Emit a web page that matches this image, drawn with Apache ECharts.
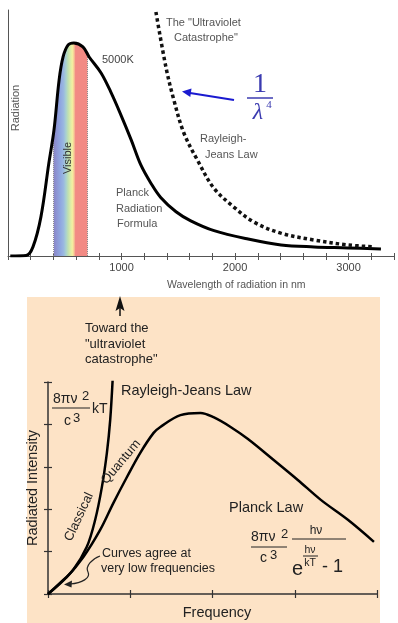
<!DOCTYPE html>
<html><head><meta charset="utf-8">
<script src="https://cdn.jsdelivr.net/npm/echarts@6/dist/echarts.min.js"></script>
<style>html,body{margin:0;padding:0;background:#fff}#c{width:398px;height:623px}</style>
</head><body><div id="c"></div>
<script>
// ---- Top panel data (wavelength in nm, relative radiation 0-100) ----
const wavelengthNm = [20,160,220,290,360,405,450,485,530,580,660,715,820,905,995,1085,1170,1260,1345,1480,1610,1815,2115,2405,2695,2995,3285];
const planckRadiation = [0,0.2,3.7,15.9,37.8,51.2,71.5,80.9,85.8,86.6,85.0,80.9,74.4,66.7,57.3,47.2,37.0,29.5,23.8,18.0,14.3,10.3,6.9,4.5,3.7,3.3,2.8];
const rjNm = [1303,1391,1461,1549,1673,1813,1989,2165,2403,2694,2993,3222];
const rjRadiation = [99.2,76.8,63.4,50.0,38.6,27.6,19.9,13.8,9.3,6.5,4.5,3.7];
const topTickLabels = [1000,2000,3000];
const visibleRange = [400,700];
const visibleEdgeTop = [50,82];
const visibleNm = [400,405,450,485,530,580,660,700];
const visibleRadiation = [50,51.2,71.5,80.9,85.8,86.6,85.0,82];
// ---- Bottom panel data (frequency 0-4, intensity 0-5) ----
const freqClassical = [0,0.146,0.305,0.472,0.573,0.655,0.716,0.756,0.789];
const intensityClassical = [0,0.26,0.566,1.113,1.745,2.52,3.33,4.10,5.17];
const freqQuantum = [0,0.228,0.43,0.634,0.796,0.96,1.122,1.284,1.366,1.61,1.854,2.012,2.22,2.427,2.744,3.037,3.317,3.646,3.963];
const intensityQuantum = [0,0.40,0.873,1.51,2.15,2.76,3.33,3.80,3.94,4.22,4.27,4.17,3.94,3.66,3.16,2.69,2.22,1.75,1.23];

const zip = (a,b)=>a.map((v,i)=>[v,b[i]]);
const FONT = 'Liberation Sans, Arial, Helvetica, sans-serif';
// spectrum colour stops (wavelength nm -> colour)
const spectrumNm = [400,430,460,490,510,530,550,567,582,595,700];
const spectrumColor = ['#8a84c4','#8c95d4','#8fa6e0','#9ab8e0','#a8d0d0','#c0e0b0','#dceca8','#f4f0a0','#f6c896','#f28a84','#f28a84'];
const spectrumGradient = new echarts.graphic.LinearGradient(0,0,1,0,
  spectrumNm.map((n,i)=>({offset:(n-visibleRange[0])/(visibleRange[1]-visibleRange[0]),color:spectrumColor[i]})));

function txt(text,x,y,size,opts){
  opts=opts||{};
  return {type:'text',x:x,y:y,rotation:opts.rot||0,z:100,
    style:{text:text,x:0,y:0,fill:opts.color||'#222',
      font:(opts.style||'')+' '+size+'px '+(opts.family||FONT),
      align:opts.align||'left',verticalAlign:'middle'}};
}
function seg(x1,y1,x2,y2,color,w){
  return {type:'line',z:100,shape:{x1:x1,y1:y1,x2:x2,y2:y2},style:{stroke:color||'#222',lineWidth:w||1}};
}
function bez(x1,y1,c1x,c1y,c2x,c2y,x2,y2,color,w){
  return {type:'bezierCurve',z:100,shape:{x1:x1,y1:y1,cpx1:c1x,cpy1:c1y,cpx2:c2x,cpy2:c2y,x2:x2,y2:y2},
    style:{stroke:color||'#222',lineWidth:w||1,fill:null}};
}

const chart = echarts.init(document.getElementById('c'),null,{renderer:'canvas'});
const axisCol = '#555';
chart.setOption({
  animation:false,
  backgroundColor:'#fff',
  grid:[
    {left:8,top:10,width:386,height:246},
    {left:48,top:382,width:329,height:212}
  ],
  xAxis:[
    {gridIndex:0,type:'value',min:0,max:3400,interval:200,position:'bottom',
     axisLine:{onZero:false,lineStyle:{color:axisCol,width:1}},
     axisTick:{length:4,lineStyle:{color:axisCol}},
     axisLabel:{fontSize:11,color:'#444',fontFamily:FONT,margin:6,
       formatter:v=>topTickLabels.indexOf(v)>=0?String(v):''},
     splitLine:{show:false}},
    {gridIndex:0,type:'value',min:0,max:3400,interval:200,position:'bottom',
     axisLine:{show:false,onZero:false},axisTick:{inside:true,length:3,lineStyle:{color:axisCol}},
     axisLabel:{show:false},splitLine:{show:false}},
    {gridIndex:1,type:'value',min:0,max:4,interval:1,position:'bottom',
     axisLine:{onZero:false,lineStyle:{color:'#333',width:1.5}},
     axisTick:{length:4,lineStyle:{color:'#333',width:1.2}},
     axisLabel:{show:false},splitLine:{show:false}},
    {gridIndex:1,type:'value',min:0,max:4,interval:1,position:'bottom',
     axisLine:{show:false,onZero:false},axisTick:{inside:true,length:4,lineStyle:{color:'#333',width:1.2}},
     axisLabel:{show:false},splitLine:{show:false}}
  ],
  yAxis:[
    {gridIndex:0,type:'value',min:0,max:100,position:'left',
     axisLine:{show:true,onZero:false,lineStyle:{color:axisCol,width:1}},
     axisTick:{show:false},axisLabel:{show:false},splitLine:{show:false}},
    {gridIndex:1,type:'value',min:0,max:5,interval:1,position:'left',
     axisLine:{show:true,onZero:false,lineStyle:{color:'#333',width:1.5}},
     axisTick:{show:true,length:4,lineStyle:{color:'#333',width:1.2}},
     axisLabel:{show:false},splitLine:{show:false}},
    {gridIndex:1,type:'value',min:0,max:5,interval:1,position:'left',
     axisLine:{show:false,onZero:false},
     axisTick:{show:true,inside:true,length:4,lineStyle:{color:'#333',width:1.2}},
     axisLabel:{show:false},splitLine:{show:false}}
  ],
  series:[
    {type:'line',xAxisIndex:0,yAxisIndex:0,data:zip(visibleNm,visibleRadiation),
     smooth:0.35,symbol:'none',lineStyle:{width:0,opacity:0},
     areaStyle:{opacity:1,color:spectrumGradient},z:1,silent:true},
    {type:'line',xAxisIndex:0,yAxisIndex:0,data:[],symbol:'none',z:3,
     markLine:{silent:true,symbol:'none',label:{show:false},
       lineStyle:{color:'#8a8a8a',type:'dotted',width:1},
       data:visibleRange.map((v,i)=>[{coord:[v,0]},{coord:[v,visibleEdgeTop[i]]}])}},
    {type:'line',xAxisIndex:0,yAxisIndex:0,data:zip(wavelengthNm,planckRadiation),
     smooth:0.35,symbol:'none',lineStyle:{color:'#000',width:3},z:5},
    {type:'line',xAxisIndex:0,yAxisIndex:0,data:zip(rjNm,rjRadiation),
     smooth:0.35,symbol:'none',lineStyle:{color:'#111',width:3.5,type:[3.5,3],cap:'butt'},z:5},
    {type:'line',xAxisIndex:2,yAxisIndex:1,data:zip(freqClassical,intensityClassical),
     smooth:0.35,symbol:'none',lineStyle:{color:'#000',width:2.5},z:5},
    {type:'line',xAxisIndex:2,yAxisIndex:1,data:zip(freqQuantum,intensityQuantum),
     smooth:0.35,symbol:'none',lineStyle:{color:'#000',width:2.5},z:5}
  ],
  graphic:[
    {type:'rect',z:-100,shape:{x:27,y:297,width:353,height:326},style:{fill:'#fde3c6'}},
    // top panel text
    txt('Radiation',16,108,11,{rot:Math.PI/2,align:'center',color:'#555'}),
    txt('Visible',68,158,11,{rot:Math.PI/2,align:'center',color:'#333'}),
    txt('5000K',102,60,11,{color:'#444'}),
    txt('The "Ultraviolet',166,23,11,{color:'#555'}),
    txt('Catastrophe"',174,38,11,{color:'#555'}),
    txt('Rayleigh-',200,139,11,{color:'#555'}),
    txt('Jeans Law',205,155,11,{color:'#555'}),
    txt('Planck',116,193,11,{color:'#555'}),
    txt('Radiation',116,209,11,{color:'#555'}),
    txt('Formula',117,224,11,{color:'#555'}),
    txt('Wavelength of radiation in nm',167,285,10.5,{color:'#555'}),
    // blue arrow + 1/lambda^4
    seg(234,100,190,93,'#1a1ad0',2),
    {type:'polygon',z:100,shape:{points:[[182,91.5],[191.5,88.6],[190.3,97]]},style:{fill:'#1a1ad0'}},
    txt('1',260,85,28,{align:'center',color:'#3b3bb0',family:'Liberation Serif, DejaVu Serif, serif'}),
    seg(247,98,273,98,'#3b3bb0',1.5),
    txt('λ',258,113,24,{align:'center',color:'#3b3bb0',style:'italic',family:'Liberation Serif, DejaVu Serif, serif'}),
    txt('4',269,105,11,{align:'center',color:'#3b3bb0',family:'Liberation Serif, DejaVu Serif, serif'}),
    // bottom panel
    {type:'polygon',z:100,shape:{points:[[120,296],[115.5,311],[120,308],[124.5,311]]},style:{fill:'#111'}},
    seg(120,308,120,316,'#111',1.5),
    txt('Toward the',85,328,13),
    txt('"ultraviolet',85,344,13),
    txt('catastrophe"',85,359,13),
    txt('Rayleigh-Jeans Law',121,391,14.5),
    txt('Planck Law',229,508,14.5),
    txt('Radiated Intensity',33,488,14.5,{rot:Math.PI/2,align:'center'}),
    txt('Frequency',217,613,14.5,{align:'center'}),
    txt('Classical',79,517,13,{rot:65*Math.PI/180,align:'center'}),
    txt('Quantum',121,462,13,{rot:50*Math.PI/180,align:'center'}),
    txt('Curves agree at',102,554,12.5),
    txt('very low frequencies',101,569,12.5),
    bez(100,556,92,559,85,566,88,572,'#222',1.2),
    bez(88,572,91,578,82,583,70,584,'#222',1.2),
    {type:'polygon',z:100,shape:{points:[[64,584.5],[72,580.5],[71.5,587.5]]},style:{fill:'#222'}},
    // formula 1 (Rayleigh-Jeans)
    txt('8πν',53,399,14),
    txt('2',82,396,13),
    seg(52,408,90,408,'#222',1),
    txt('c',64,421,14),
    txt('3',73,418,13),
    txt('kT',92,409,14),
    // formula 2 (Planck)
    txt('8πν',251,537,14),
    txt('2',281,534,13),
    seg(251,547,287,547,'#222',1),
    txt('c',260,558,14),
    txt('3',270,555,13),
    txt('hν',316,531,12,{align:'center'}),
    seg(292,539,346,539,'#222',1),
    txt('e',292,569,20),
    txt('hν',310,550,10.5,{align:'center'}),
    seg(303,556,318,556,'#222',1),
    txt('kT',310,563,10.5,{align:'center'}),
    txt('- 1',322,567,18)
  ]
});
</script></body></html>
